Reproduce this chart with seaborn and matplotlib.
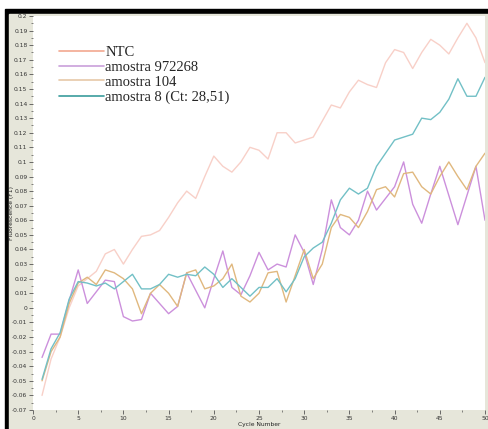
import numpy as np
import pandas as pd
import seaborn as sns
import matplotlib.pyplot as plt
from matplotlib.patches import Rectangle
from matplotlib.ticker import MultipleLocator, FuncFormatter

cycles = list(range(1, 51))

ntc = [-0.060, -0.035, -0.020, 0.000, 0.015, 0.020, 0.025, 0.037, 0.040, 0.030,
       0.040, 0.049, 0.050, 0.053, 0.062, 0.072, 0.080, 0.075, 0.090, 0.104,
       0.097, 0.093, 0.100, 0.110, 0.108, 0.102, 0.120, 0.120, 0.113, 0.115,
       0.117, 0.128, 0.139, 0.137, 0.148, 0.156, 0.153, 0.151, 0.168, 0.177,
       0.175, 0.164, 0.175, 0.184, 0.180, 0.174, 0.185, 0.195, 0.185, 0.168]

amostra_972268 = [-0.034, -0.018, -0.018, 0.005, 0.026, 0.003, 0.011, 0.019, 0.018, -0.006,
                  -0.009, -0.008, 0.010, 0.003, -0.004, 0.001, 0.024, 0.012, 0.000, 0.020,
                  0.039, 0.014, 0.009, 0.022, 0.038, 0.026, 0.030, 0.028, 0.050, 0.038,
                  0.016, 0.040, 0.074, 0.055, 0.050, 0.060, 0.080, 0.067, 0.075, 0.083,
                  0.100, 0.071, 0.058, 0.078, 0.097, 0.077, 0.057, 0.077, 0.097, 0.060]

amostra_104 = [-0.050, -0.030, -0.020, 0.003, 0.017, 0.021, 0.016, 0.026, 0.024, 0.020,
               0.013, -0.004, 0.010, 0.016, 0.010, 0.001, 0.024, 0.026, 0.013, 0.015,
               0.020, 0.030, 0.008, 0.004, 0.010, 0.024, 0.025, 0.004, 0.022, 0.040,
               0.020, 0.030, 0.055, 0.064, 0.062, 0.055, 0.066, 0.081, 0.083, 0.076,
               0.092, 0.093, 0.083, 0.078, 0.090, 0.100, 0.090, 0.081, 0.097, 0.106]

amostra_8 = [-0.049, -0.028, -0.017, 0.006, 0.018, 0.017, 0.015, 0.017, 0.013, 0.018,
             0.023, 0.013, 0.013, 0.016, 0.023, 0.021, 0.023, 0.022, 0.028, 0.023,
             0.014, 0.020, 0.014, 0.008, 0.014, 0.014, 0.020, 0.011, 0.020, 0.035,
             0.041, 0.045, 0.058, 0.074, 0.082, 0.078, 0.082, 0.097, 0.106, 0.115,
             0.117, 0.119, 0.130, 0.129, 0.134, 0.143, 0.157, 0.145, 0.145, 0.158]

labels = ['NTC', 'amostra 972268', 'amostra 104', 'amostra 8 (Ct: 28,51)']
series = [ntc, amostra_972268, amostra_104, amostra_8]
colors = ['#f8d0c8', '#cc90dc', '#e0b87e', '#72c0c6']

df = pd.DataFrame({
    'cycle': cycles * len(labels),
    'value': [v for s in series for v in s],
    'series': [lab for lab in labels for _ in cycles],
})

sns.set_style('white')
W, H = 488, 429
fig = plt.figure(figsize=(W / 100, H / 100), dpi=100, facecolor='white')

# black frame and grey panel like the original screenshot
fig.patches.append(Rectangle((5 / W, 0), 1 - 5 / W, (H - 9) / H,
                             transform=fig.transFigure, color='black', zorder=-10))
fig.patches.append(Rectangle((9 / W, 0), 1 - 9 / W, (H - 14) / H,
                             transform=fig.transFigure, color='#e6e6da', zorder=-9))

ax = fig.add_axes([33 / W, (H - 410) / H, (485 - 33) / W, (410 - 16) / H])
ax.set_facecolor('white')
ax.set_zorder(1)

sns.lineplot(data=df, x='cycle', y='value', hue='series', palette=colors,
             linewidth=1.0, ax=ax, legend=False)

ax.set_xlim(0, 50)
ax.set_ylim(-0.07, 0.2)
ax.xaxis.set_major_locator(MultipleLocator(5))
ax.xaxis.set_minor_locator(MultipleLocator(2.5))
ax.yaxis.set_major_locator(MultipleLocator(0.01))
ax.yaxis.set_minor_locator(MultipleLocator(0.005))


def yfmt(v, pos):
    if abs(v) < 1e-9:
        return '0'
    return ('%.2f' % v).rstrip('0').rstrip('.')


ax.yaxis.set_major_formatter(FuncFormatter(yfmt))
ax.tick_params(axis='both', which='major', labelsize=4.3, length=3, width=0.6,
               color='#555555', labelcolor='#333333', pad=1, left=True, bottom=True)
ax.tick_params(axis='both', which='minor', length=1.5, width=0.5, color='#555555',
               left=True, bottom=True)
for sp in ax.spines.values():
    sp.set_visible(False)

ax.set_xlabel('Cycle Number', fontsize=4.3, labelpad=1, color='#222222')
ax.set_ylabel('Fluorescence (F1)', fontsize=4.3, color='#222222')
ax.yaxis.set_label_coords(-0.042, 0.5)

# legend drawn as in the original (serif, no frame)
handles = [plt.Line2D([], [], color=c, linewidth=1.2)
           for c in ['#f2a890', '#c9a0da', '#e6c8a8', '#3a9c9c']]
ax.legend(handles, labels, loc='upper left', bbox_to_anchor=(0.045, 0.94),
          frameon=False, handlelength=3.1, handletextpad=0.05, labelspacing=0.12,
          borderaxespad=0, prop={'family': 'Liberation Serif', 'size': 10.5})

fig.savefig('out.png', dpi=100, facecolor=fig.get_facecolor())
